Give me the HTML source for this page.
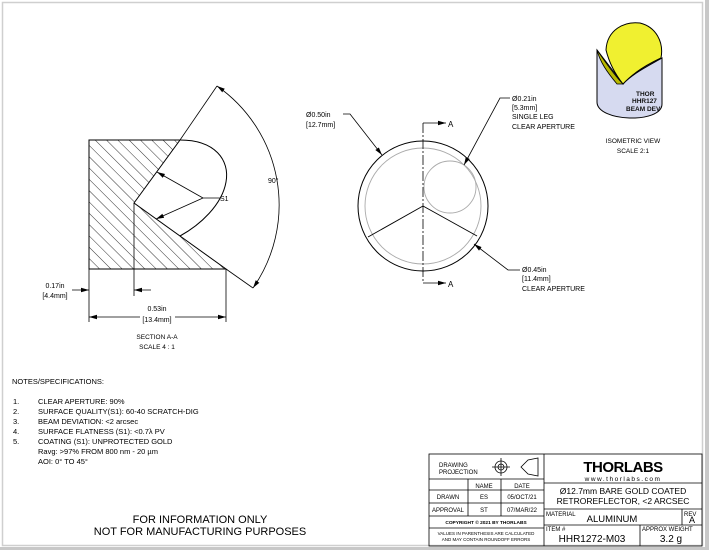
<!DOCTYPE html>
<html><head><meta charset="utf-8"><style>
html,body{margin:0;padding:0;background:#fff;}
svg{display:block;font-family:"Liberation Sans",sans-serif;}
</style></head><body>
<svg width="709" height="550" viewBox="0 0 709 550" xmlns="http://www.w3.org/2000/svg">
<defs>
<marker id="ar" markerWidth="8" markerHeight="6" refX="8" refY="3" orient="auto" markerUnits="userSpaceOnUse"><path d="M0,0.8 L8,3 L0,5.2z" fill="#000"/></marker>
<pattern id="hatch" patternUnits="userSpaceOnUse" width="8" height="8" patternTransform="rotate(-45)"><line x1="0" y1="0" x2="0" y2="8" stroke="#000" stroke-width="0.8"/></pattern>
</defs>
<rect x="0" y="0" width="709" height="550" fill="#fff"/>
<rect x="705" y="0" width="4" height="550" fill="#c8c8c8"/>
<rect x="0" y="547" width="709" height="3" fill="#c8c8c8"/>
<rect x="2.5" y="2.5" width="700" height="543" fill="none" stroke="#cfcfcf" stroke-width="1.5"/>

<!-- Section view -->
<polygon points="89,140 180,140 134,203 226,269 89,269" fill="url(#hatch)" stroke="#000" stroke-width="1"/>
<path d="M180,140 C215,140 230,160 226,182 C222,205 200,225 180,236" fill="none" stroke="#000" stroke-width="1"/>
<line x1="180" y1="140" x2="217" y2="86" stroke="#000" stroke-width="0.8"/>
<line x1="226" y1="269" x2="253" y2="288" stroke="#000" stroke-width="0.8"/>
<path d="M217,86 A145,145 0 0 1 253,288" fill="none" stroke="#000" stroke-width="0.8" marker-end="url(#ar)"/>
<path d="M253,288 A145,145 0 0 0 217,86" fill="none" stroke="none" marker-end="url(#ar)"/>
<text x="268" y="183" font-size="7">90°</text>
<line x1="220" y1="198" x2="203" y2="198" stroke="#000" stroke-width="0.8"/>
<line x1="203" y1="198" x2="157" y2="172" stroke="#000" stroke-width="0.8" marker-end="url(#ar)"/>
<line x1="203" y1="198" x2="156" y2="219" stroke="#000" stroke-width="0.8" marker-end="url(#ar)"/>
<text x="220" y="201" font-size="7">S1</text>
<line x1="89" y1="269" x2="89" y2="322" stroke="#000" stroke-width="0.8"/>
<line x1="134" y1="203" x2="134" y2="296" stroke="#000" stroke-width="0.8"/>
<line x1="226" y1="269" x2="226" y2="322" stroke="#000" stroke-width="0.8"/>
<line x1="140" y1="317" x2="89" y2="317" stroke="#000" stroke-width="0.8" marker-end="url(#ar)"/>
<line x1="175" y1="317" x2="226" y2="317" stroke="#000" stroke-width="0.8" marker-end="url(#ar)"/>
<text x="157" y="311" font-size="7" text-anchor="middle">0.53in</text>
<text x="157" y="322" font-size="7" text-anchor="middle">[13.4mm]</text>
<line x1="72" y1="290" x2="89" y2="290" stroke="#000" stroke-width="0.8" marker-end="url(#ar)"/>
<line x1="151" y1="290" x2="134" y2="290" stroke="#000" stroke-width="0.8" marker-end="url(#ar)"/>
<text x="55" y="288" font-size="7" text-anchor="middle">0.17in</text>
<text x="55" y="298" font-size="7" text-anchor="middle">[4.4mm]</text>
<text x="157" y="339" font-size="6.5" text-anchor="middle">SECTION A-A</text>
<text x="157" y="349" font-size="6.5" text-anchor="middle">SCALE 4 : 1</text>

<!-- Front view -->
<circle cx="423" cy="206" r="65" fill="none" stroke="#000" stroke-width="1"/>
<circle cx="423" cy="206" r="58" fill="none" stroke="#aaa" stroke-width="0.9"/>
<circle cx="450" cy="187" r="26" fill="none" stroke="#aaa" stroke-width="0.9"/>
<line x1="423" y1="206" x2="368" y2="237" stroke="#000" stroke-width="0.9"/>
<line x1="423" y1="206" x2="477" y2="236" stroke="#000" stroke-width="0.9"/>
<line x1="423" y1="123" x2="423" y2="283" stroke="#000" stroke-width="0.8" stroke-dasharray="10,2,2,2"/>
<line x1="423" y1="123" x2="446" y2="123" stroke="#000" stroke-width="0.8" marker-end="url(#ar)"/>
<line x1="423" y1="283" x2="446" y2="283" stroke="#000" stroke-width="0.8" marker-end="url(#ar)"/>
<text x="448" y="127" font-size="8">A</text>
<text x="448" y="287" font-size="8">A</text>
<text x="306" y="117" font-size="7">Ø0.50in</text>
<text x="306" y="127" font-size="7">[12.7mm]</text>
<polyline points="343,114 350,114 382,155" fill="none" stroke="#000" stroke-width="0.8" marker-end="url(#ar)"/>
<text x="512" y="101" font-size="7">Ø0.21in</text>
<text x="512" y="110" font-size="7">[5.3mm]</text>
<text x="512" y="119" font-size="7">SINGLE LEG</text>
<text x="512" y="129" font-size="7">CLEAR APERTURE</text>
<polyline points="510,98 500,98 464,165" fill="none" stroke="#000" stroke-width="0.8" marker-end="url(#ar)"/>
<polyline points="520,270 508,270 474,244" fill="none" stroke="#000" stroke-width="0.8" marker-end="url(#ar)"/>
<text x="522" y="272" font-size="7">Ø0.45in</text>
<text x="522" y="281" font-size="7">[11.4mm]</text>
<text x="522" y="291" font-size="7">CLEAR APERTURE</text>

<!-- Isometric -->
<path d="M597,50 L597,102 C597,122 662,124 662,104 L662,58 C648,66 632,74 623,84 Z" fill="#d6daf0" stroke="#000" stroke-width="1"/>
<path d="M597,50 C604,60 613,74 623,84 L617,84 C607,72 600,62 597,50Z" fill="#b8b800" stroke="#000" stroke-width="0.8"/>
<path d="M606,50 C607,30 624,21 640,23 C656,27 664,42 661,58 C646,65 632,74 623,84 C615,74 609,62 606,50Z" fill="#f0f030" stroke="#000" stroke-width="1"/>
<g fill="#111" font-size="6.5" font-weight="bold"><text x="636" y="96">THOR</text><text x="632" y="103">HHR127</text><text x="626" y="111">BEAM DEV</text></g>
<text x="633" y="143" font-size="6.5" text-anchor="middle">ISOMETRIC VIEW</text>
<text x="633" y="153" font-size="6.5" text-anchor="middle">SCALE 2:1</text>

<!-- Notes -->
<g font-size="7.5">
<text x="12" y="384">NOTES/SPECIFICATIONS:</text>
<text x="13" y="404">1.</text><text x="38" y="404">CLEAR APERTURE: 90%</text>
<text x="13" y="414">2.</text><text x="38" y="414">SURFACE QUALITY(S1): 60-40 SCRATCH-DIG</text>
<text x="13" y="424">3.</text><text x="38" y="424">BEAM DEVIATION: &lt;2 arcsec</text>
<text x="13" y="434">4.</text><text x="38" y="434">SURFACE FLATNESS (S1): &lt;0.7λ PV</text>
<text x="13" y="444">5.</text><text x="38" y="444">COATING (S1): UNPROTECTED GOLD</text>
<text x="38" y="454">Ravg: &gt;97% FROM  800 nm - 20 µm</text>
<text x="38" y="464">AOI: 0° TO 45°</text>
</g>
<text x="200" y="523" font-size="11" text-anchor="middle">FOR INFORMATION ONLY</text>
<text x="200" y="535" font-size="11" text-anchor="middle">NOT FOR MANUFACTURING PURPOSES</text>

<!-- Title block -->
<g stroke="#000" stroke-width="0.8" fill="none">
<rect x="429" y="454" width="273" height="92"/>
<line x1="544" y1="454" x2="544" y2="546"/>
<line x1="429" y1="479" x2="544" y2="479"/>
<line x1="429" y1="490" x2="544" y2="490"/>
<line x1="429" y1="503" x2="544" y2="503"/>
<line x1="429" y1="516" x2="544" y2="516"/>
<line x1="429" y1="528" x2="544" y2="528"/>
<line x1="468" y1="479" x2="468" y2="516"/>
<line x1="501" y1="479" x2="501" y2="516"/>
<line x1="544" y1="483" x2="702" y2="483"/>
<line x1="544" y1="509" x2="702" y2="509"/>
<line x1="544" y1="525" x2="702" y2="525"/>
<line x1="682" y1="509" x2="682" y2="525"/>
<line x1="640" y1="525" x2="640" y2="546"/>
<circle cx="501" cy="467" r="6"/><circle cx="501" cy="467" r="3"/>
<line x1="492" y1="467" x2="510" y2="467"/><line x1="501" y1="458" x2="501" y2="476"/>
<path d="M521,467 L528,460 L538,458 L538,476 L528,474 Z"/>
</g>
<g font-size="6">
<text x="439" y="467">DRAWING</text><text x="439" y="474">PROJECTION</text>
<text x="484" y="488" text-anchor="middle">NAME</text><text x="522" y="488" text-anchor="middle">DATE</text>
<text x="448" y="499" text-anchor="middle">DRAWN</text><text x="484" y="499" text-anchor="middle">ES</text><text x="522" y="499" text-anchor="middle">05/OCT/21</text>
<text x="448" y="512" text-anchor="middle">APPROVAL</text><text x="484" y="512" text-anchor="middle">ST</text><text x="522" y="512" text-anchor="middle">07/MAR/22</text>
<text x="486" y="524" text-anchor="middle" font-size="4.8" font-weight="bold">COPYRIGHT © 2021 BY THORLABS</text>
<text x="486" y="535" text-anchor="middle" font-size="4.5">VALUES IN PARENTHESIS ARE CALCULATED</text>
<text x="486" y="541" text-anchor="middle" font-size="4.5">AND MAY CONTAIN ROUNDOFF ERRORS</text>
<text x="546" y="516">MATERIAL</text><text x="684" y="516">REV</text>
<text x="546" y="531">ITEM #</text><text x="642" y="531">APPROX WEIGHT</text>
</g>
<text x="623" y="472" font-size="15" font-weight="bold" text-anchor="middle" letter-spacing="-0.5">THORLABS</text>
<text x="623" y="481" font-size="6.5" text-anchor="middle" letter-spacing="1.5">www.thorlabs.com</text>
<text x="623" y="494" font-size="8.5" text-anchor="middle">Ø12.7mm BARE GOLD COATED</text>
<text x="623" y="504" font-size="8.5" text-anchor="middle">RETROREFLECTOR, &lt;2 ARCSEC</text>
<text x="612" y="522" font-size="9.5" text-anchor="middle">ALUMINUM</text>
<text x="692" y="523" font-size="9" text-anchor="middle">A</text>
<text x="592" y="542" font-size="10" text-anchor="middle">HHR1272-M03</text>
<text x="671" y="542" font-size="10" text-anchor="middle">3.2 g</text>
</svg>
</body></html>
